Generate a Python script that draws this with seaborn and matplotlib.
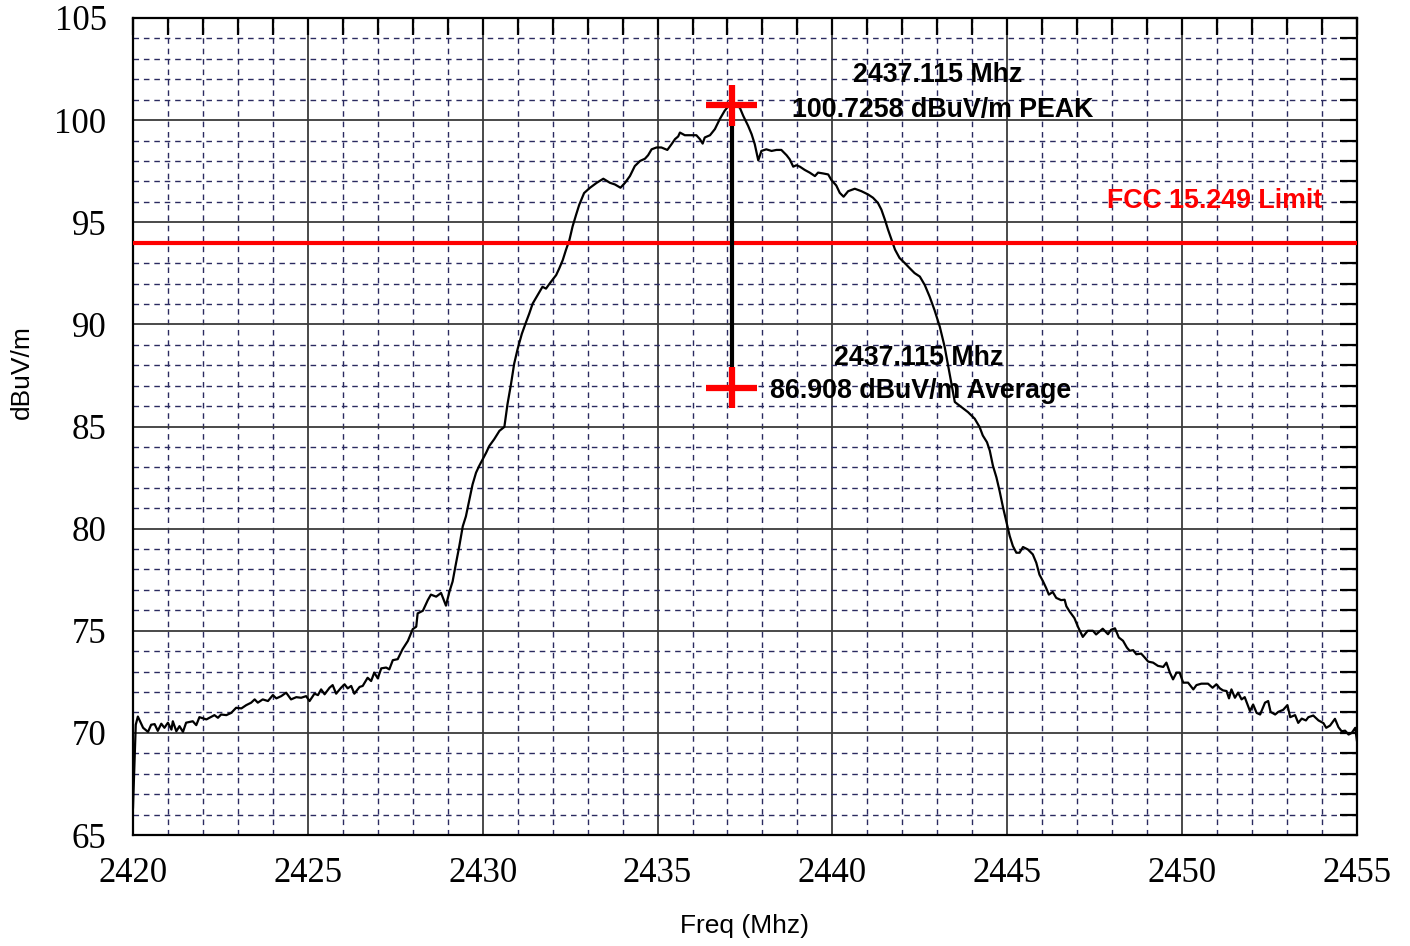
import matplotlib
matplotlib.use("Agg")
import matplotlib.pyplot as plt
from matplotlib.ticker import MultipleLocator, FixedLocator
import seaborn as sns

# Measured emission sweep (MHz, dBuV/m)
freq_mhz = [
    2420.00, 2420.08, 2420.14, 2420.29, 2420.43, 2420.52, 2420.62, 2420.71, 2420.81, 2420.90,
    2421.00, 2421.10, 2421.14, 2421.24, 2421.33, 2421.43, 2421.52, 2421.71, 2421.81, 2421.90,
    2422.10, 2422.19, 2422.33, 2422.43, 2422.52, 2422.67, 2422.81, 2422.95, 2423.10, 2423.24,
    2423.38, 2423.48, 2423.57, 2423.71, 2423.86, 2424.00, 2424.10, 2424.24, 2424.38, 2424.52,
    2424.67, 2424.81, 2424.95, 2425.05, 2425.19, 2425.29, 2425.38, 2425.48, 2425.62, 2425.71,
    2425.81, 2425.95, 2426.05, 2426.14, 2426.24, 2426.33, 2426.48, 2426.57, 2426.71, 2426.81,
    2426.90, 2427.00, 2427.10, 2427.24, 2427.33, 2427.43, 2427.57, 2427.71, 2427.86, 2428.00,
    2428.10, 2428.14, 2428.29, 2428.43, 2428.52, 2428.67, 2428.81, 2428.95,
    2429.05, 2429.14, 2429.22, 2429.33, 2429.43, 2429.52, 2429.62, 2429.71, 2429.81, 2429.90,
    2430.00, 2430.10, 2430.19, 2430.33, 2430.48, 2430.62, 2430.71, 2430.81, 2430.90, 2431.00,
    2431.12, 2431.24, 2431.33, 2431.43, 2431.57, 2431.71, 2431.81, 2431.95, 2432.10, 2432.19,
    2432.29, 2432.38, 2432.48, 2432.57, 2432.67, 2432.76, 2432.90,
    2433.07, 2433.26, 2433.45, 2433.64, 2433.78, 2433.94, 2434.07, 2434.21, 2434.35, 2434.50,
    2434.64, 2434.73, 2434.83, 2434.97, 2435.11, 2435.28, 2435.40, 2435.50, 2435.59, 2435.64,
    2435.78, 2435.97, 2436.11, 2436.21, 2436.29, 2436.35, 2436.50, 2436.64, 2436.78, 2436.92,
    2437.02, 2437.115, 2437.20, 2437.35, 2437.45, 2437.59, 2437.69, 2437.78, 2437.88, 2437.97,
    2438.11, 2438.26, 2438.40,
    2438.54, 2438.69, 2438.78, 2438.88, 2438.97, 2439.07, 2439.21, 2439.35, 2439.50, 2439.59,
    2439.73, 2439.88, 2439.97, 2440.11, 2440.21, 2440.32, 2440.45, 2440.64, 2440.83, 2441.02,
    2441.16, 2441.30, 2441.40, 2441.50, 2441.59, 2441.69, 2441.79, 2441.92, 2442.07, 2442.21,
    2442.35, 2442.50, 2442.64, 2442.78, 2442.92, 2443.07, 2443.21, 2443.35, 2443.50,
    2443.69, 2443.88, 2444.07, 2444.21, 2444.30, 2444.42, 2444.50, 2444.59, 2444.69, 2444.78,
    2444.88, 2444.97, 2445.07, 2445.16, 2445.26, 2445.35, 2445.45, 2445.59, 2445.73, 2445.83,
    2445.92, 2446.02, 2446.11, 2446.19, 2446.30, 2446.40, 2446.54, 2446.64, 2446.69, 2446.78,
    2446.92, 2447.02, 2447.16, 2447.30, 2447.45, 2447.54, 2447.73, 2447.88, 2447.97, 2448.08,
    2448.19, 2448.31, 2448.42, 2448.50, 2448.60, 2448.69, 2448.83, 2448.93, 2449.03, 2449.17,
    2449.31, 2449.46, 2449.55, 2449.65, 2449.74, 2449.84, 2449.93, 2450.03, 2450.17, 2450.32,
    2450.41, 2450.55, 2450.74, 2450.87, 2450.98, 2451.08, 2451.17, 2451.27, 2451.34, 2451.41,
    2451.51, 2451.60, 2451.70, 2451.79, 2451.94, 2452.03, 2452.13, 2452.23, 2452.37, 2452.46,
    2452.53, 2452.66, 2452.75, 2452.89, 2453.01, 2453.09, 2453.23, 2453.32, 2453.42, 2453.54,
    2453.61, 2453.75, 2453.90, 2454.04, 2454.12, 2454.23, 2454.37, 2454.47, 2454.56, 2454.66,
    2454.76, 2454.85, 2454.95, 2455.00,
]

level_dbuv = [
    66.30, 70.40, 70.80, 70.25, 70.05, 70.40, 70.43, 70.10, 70.45, 70.25,
    70.50, 70.16, 70.57, 70.08, 70.33, 70.05, 70.50, 70.57, 70.38, 70.77,
    70.66, 70.74, 70.87, 70.74, 70.90, 70.87, 70.98, 71.23, 71.20, 71.36,
    71.48, 71.64, 71.48, 71.64, 71.56, 71.85, 71.69, 71.80, 71.97, 71.64,
    71.75, 71.72, 71.80, 71.56, 71.92, 71.85, 72.13, 71.89, 72.21, 72.34,
    71.92, 72.21, 72.38, 72.18, 72.30, 71.92, 72.25, 72.30, 72.70, 72.54,
    72.95, 72.67, 73.16, 73.20, 73.11, 73.56, 73.61, 74.10, 74.50, 75.08,
    75.20, 75.85, 75.98, 76.50, 76.77, 76.67, 76.85, 76.23,
    76.92, 77.41, 78.15, 79.13, 80.11, 80.60, 81.43, 82.16, 82.74, 83.07,
    83.39, 83.72, 84.05, 84.38, 84.79, 84.98, 86.10, 87.08, 88.07, 88.80,
    89.54, 90.11, 90.52, 91.02, 91.43, 91.84, 91.75, 92.08, 92.41, 92.74,
    93.15, 93.64, 94.13, 94.79, 95.36, 95.85, 96.43,
    96.69, 96.93, 97.13, 96.93, 96.85, 96.69, 96.93, 97.26, 97.75, 98.00,
    98.11, 98.28, 98.57, 98.66, 98.66, 98.54, 98.82, 99.07, 99.20, 99.39,
    99.26, 99.26, 99.26, 99.07, 98.85, 99.15, 99.26, 99.56, 100.05, 100.46,
    100.67, 100.7258, 100.70, 100.62, 100.21, 99.72, 99.31, 98.82, 98.03, 98.49,
    98.57, 98.49, 98.54,
    98.54, 98.28, 98.08, 97.72, 97.79, 97.72, 97.56, 97.43, 97.26, 97.43,
    97.39, 97.34, 97.07, 96.80, 96.44, 96.25, 96.52, 96.64, 96.52, 96.36,
    96.20, 95.95, 95.62, 95.13, 94.64, 94.15, 93.66, 93.25, 93.00, 92.75,
    92.51, 92.34, 91.93, 91.36, 90.70, 89.89, 88.90, 87.59, 86.20,
    85.95, 85.70, 85.38, 84.97, 84.56, 84.23, 83.82, 83.08, 82.51, 81.85,
    81.03, 80.38, 79.64, 79.15, 78.82, 78.82, 79.10, 78.98, 78.74, 78.33,
    77.75, 77.43, 77.10, 76.77, 76.90, 76.61, 76.50, 76.52, 76.20, 75.95,
    75.62, 75.20, 74.70, 75.00, 75.00, 74.82, 75.10, 74.83, 75.05, 75.12,
    74.67, 74.51, 74.18, 74.02, 74.05, 73.85, 73.88, 73.69, 73.49, 73.44,
    73.28, 73.23, 73.44, 72.95, 72.62, 72.95, 72.95, 72.46, 72.46, 72.13,
    72.34, 72.41, 72.41, 72.21, 72.38, 72.18, 72.08, 72.05, 71.69, 72.13,
    71.72, 71.97, 71.64, 71.75, 71.07, 71.39, 70.98, 70.90, 71.48, 71.56,
    71.03, 70.90, 71.03, 71.13, 71.36, 70.77, 70.87, 70.49, 70.70, 70.61,
    70.77, 70.85, 70.61, 70.48, 70.25, 70.36, 70.69, 70.28, 70.08, 70.11,
    69.92, 70.00, 70.25, 69.59,
]

limit_dbuv = 94.0
limit_label = "FCC 15.249 Limit"
marker_freq = 2437.115
peak_dbuv = 100.7258
avg_dbuv = 86.908

x_ticks = [2420, 2425, 2430, 2435, 2440, 2445, 2450, 2455]
y_ticks = [65, 70, 75, 80, 85, 90, 95, 100, 105]

sns.set_theme(style="white")
plt.rcParams["font.family"] = ["Liberation Sans", "DejaVu Sans"]

fig = plt.figure(figsize=(14.1, 9.46), dpi=100)
ax = fig.add_axes([0.0943, 0.1173, 0.8681, 0.8637])

# Spectrum trace
sns.lineplot(x=freq_mhz, y=level_dbuv, color="black", linewidth=1.6,
             estimator=None, sort=False, ax=ax, zorder=4)

# Regulatory limit
ax.axhline(limit_dbuv, color="red", linewidth=3, zorder=5)

# Marker: line from average to peak plus red crosses
ax.plot([marker_freq, marker_freq], [avg_dbuv, peak_dbuv], color="black",
        linewidth=3, zorder=6, solid_capstyle="butt")
for val in (peak_dbuv, avg_dbuv):
    ax.errorbar(marker_freq, val, xerr=0.72, yerr=1.0, fmt="none",
                ecolor="red", elinewidth=4.5, capsize=0, zorder=7)

text_kw = dict(fontsize=19.3, fontweight="bold", ha="center", va="baseline",
               family=["Liberation Sans", "DejaVu Sans"], zorder=8)
ax.text(2443.02, 101.87, f"{marker_freq} Mhz", color="black", **text_kw)
ax.text(2443.15, 100.17, f"{peak_dbuv} dBuV/m PEAK", color="black", **text_kw)
ax.text(2442.48, 88.02, f"{marker_freq} Mhz", color="black", **text_kw)
ax.text(2442.52, 86.39, f"{avg_dbuv} dBuV/m Average", color="black", **text_kw)
ax.text(2450.94, 95.70, limit_label, color="red", **text_kw)

# Axes limits, ticks and grid
ax.set_xlim(x_ticks[0], x_ticks[-1])
ax.set_ylim(y_ticks[0], y_ticks[-1])
ax.xaxis.set_major_locator(FixedLocator(x_ticks))
ax.yaxis.set_major_locator(FixedLocator(y_ticks))
ax.xaxis.set_minor_locator(MultipleLocator(1))
ax.yaxis.set_minor_locator(MultipleLocator(1))

ax.grid(which="major", color="#3a3a3a", linewidth=1.3, linestyle="-", zorder=1)
ax.grid(which="minor", color="#2a2a60", linewidth=1.0, linestyle=(0, (4, 3.5)), zorder=1)
ax.set_axisbelow(True)

ax.tick_params(which="both", direction="in", top=True, right=True,
               length=12, width=1.6, color="black")
ax.tick_params(which="major", labelsize=25, pad=19)
ax.tick_params(axis="x", which="major", pad=16)
for lbl in ax.get_xticklabels() + ax.get_yticklabels():
    lbl.set_fontfamily(["Liberation Serif", "DejaVu Serif"])
    lbl.set_color("black")

for sp in ax.spines.values():
    sp.set_visible(True)
    sp.set_color("black")
    sp.set_linewidth(1.6)

ax.set_xlabel("Freq (Mhz)", fontsize=19, color="black")
ax.set_ylabel("dBuV/m", fontsize=19, color="black")
ax.xaxis.set_label_coords(0.5, -0.097)
ax.yaxis.set_label_coords(-0.081, 0.567)

fig.savefig("out.png", dpi=100, facecolor="white")
